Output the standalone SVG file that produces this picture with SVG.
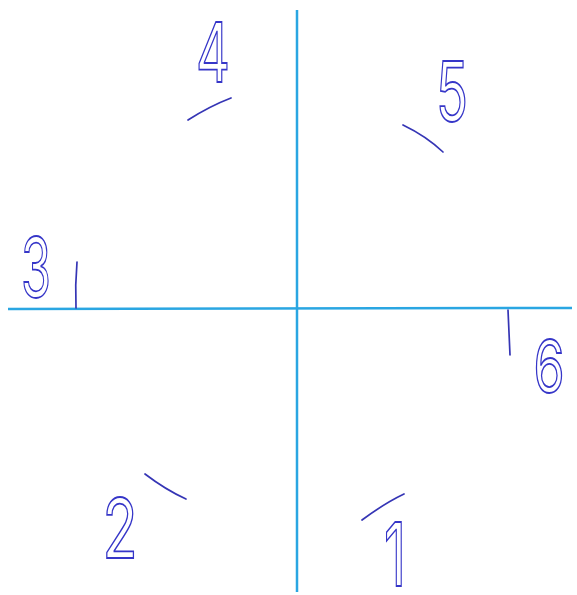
<svg xmlns="http://www.w3.org/2000/svg" width="577" height="595" viewBox="0 0 577 595">
<style>
.axis{stroke:#2aa6e2;stroke-width:2.5;fill:none}
.tick{stroke:#3535b5;stroke-width:1.7;fill:none;stroke-linecap:round}
.num{font-family:Inter,"Liberation Sans",sans-serif;font-weight:400;font-size:82px;fill:#ffffff;stroke:#3636c8;stroke-width:1.8;text-anchor:middle}
.s6{font-size:72px}
.s1{font-size:88px}
</style>
<rect width="577" height="595" fill="#ffffff"/>
<g id="connectors">
<line class="axis" x1="297" y1="10" x2="297" y2="592"/>
<line class="axis" x1="8" y1="309" x2="572" y2="308"/>
<path class="tick" d="M188,120 Q210,106 231,98"/>
<path class="tick" d="M403,125 Q426,136 443,152"/>
<path class="tick" d="M77,262 Q75,285 76,308"/>
<path class="tick" d="M508,310 Q509,333 510,355"/>
<path class="tick" d="M145,474 Q166,490 186,499"/>
<path class="tick" d="M362,520 Q385,503 404,494"/>
</g>
<g id="n4"><text class="num" x="213" y="82" textLength="34" lengthAdjust="spacingAndGlyphs">4</text></g>
<g id="n5"><text class="num" x="452" y="121" textLength="32" lengthAdjust="spacingAndGlyphs">5</text></g>
<g id="n3"><text class="num" x="36" y="297" textLength="30" lengthAdjust="spacingAndGlyphs">3</text></g>
<g id="n6"><text class="num s6" x="549" y="392" textLength="31" lengthAdjust="spacingAndGlyphs">6</text></g>
<g id="n2"><text class="num" x="120" y="558" textLength="35" lengthAdjust="spacingAndGlyphs">2</text></g>
<g id="n1"><text class="num s1" x="395" y="586" textLength="22" lengthAdjust="spacingAndGlyphs">1</text></g>
</svg>
